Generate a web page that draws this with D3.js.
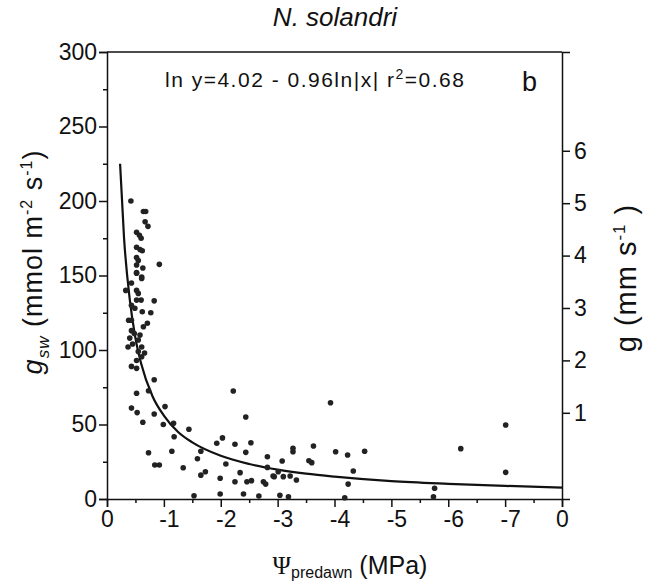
<!DOCTYPE html>
<html>
<head>
<meta charset="utf-8">
<title>N. solandri</title>
<script src="https://d3js.org/d3.v7.min.js"></script>
<style>
 body { margin: 0; background: #fff; }
 text { font-family: "Liberation Sans", Arial, sans-serif; fill: #111; }
 .axis path, .axis line { stroke: #111; stroke-width: 1.5; fill: none; }
 .axis text { font-size: 23px; }
</style>
</head>
<body>
<div id="chart"></div>
<script>
// scatter: predawn water potential (MPa) and g_sw (mmol m-2 s-1)
var psi = [-0.42, -0.64, -0.68, -0.67, -0.72, -0.52, -0.57, -0.60, -0.52, -0.58, -0.62, -0.52, -0.55,
  -0.52, -0.63, -0.52, -0.61, -0.92, -0.52, -0.61, -0.43, -0.33, -0.52, -0.55, -0.52, -0.60, -0.83,
  -0.43, -0.49, -0.62, -0.77, -0.43, -0.71, -0.64, -0.43, -0.48, -0.40, -0.55, -0.61, -0.55, -0.61,
  -0.52, -0.37, -0.43, -0.52, -0.83, -0.52, -0.73, -2.22, -0.43, -0.53, -1.02, -0.83, -0.63, -0.99,
  -1.17, -2.44, -1.44, -1.18, -0.73, -1.14, -0.84, -0.92, -1.34, -1.65, -1.59, -1.93, -2.03, -2.25,
  -2.53, -2.44, -2.82, -3.08, -2.82, -3.27, -3.27, -2.09, -2.34, -1.65, -1.73, -1.99, -2.25, -2.46,
  -2.54, -2.75, -2.79, -2.92, -3.01, -3.22, -3.33, -1.99, -1.53, -2.40, -2.67, -3.04, -3.19, -3.93,
  -3.63, -4.02, -4.23, -4.53, -3.55, -3.60, -4.33, -4.24, -2.94, -3.10, -4.18, -6.22, -7.01, -7.01,
  -5.76, -5.74, -0.45, -0.38, -0.58, -0.66];
var gsw = [200, 193, 193, 186, 183, 179, 177, 175, 169, 167.5, 166.6, 162, 160,
  157, 155, 151.5, 149, 157.5, 152, 148, 145, 140, 140, 138, 133.5, 133.5, 133,
  130, 128, 125.7, 125, 120, 118, 115.6, 113, 111, 108, 106.7, 102, 99, 95.5,
  93, 102, 89, 87.7, 80, 71, 72.7, 72.5, 61, 58, 62, 57, 51.5, 50,
  50.8, 55, 46.8, 41.8, 31, 32, 22.8, 22.8, 21, 32, 27, 37.4, 41, 36.7,
  37.8, 31.3, 28.4, 25.5, 21.2, 31.7, 34, 23.5, 17.7, 16, 18.3, 13.9, 11.6, 11.6,
  12.3, 11.6, 10, 15.4, 18.3, 15.4, 12.8, 3.4, 2.2, 3.4, 2, 2.5, 1.5, 64.6,
  35.6, 31.7, 29.5, 32, 25.7, 24.4, 18.8, 10, 15, 15, 0.8, 33.8, 49.7, 17.9,
  7.2, 1.5, 104, 120, 110, 98];

// fitted curve read along its length
var fitX = [-0.23, -0.3, -0.4, -0.5, -0.6, -0.8, -1.0, -1.25, -1.5, -2.0, -2.5, -3.0, -3.5, -4.0, -5.0, -6.0, -7.0, -8.0];
var fitY = [225, 175, 134, 108, 91, 69, 56, 45, 38, 29, 23.5, 19.7, 17, 15, 12, 10.2, 8.8, 7.7];

var xTicks = [0, -1, -2, -3, -4, -5, -6, -7, -8];
var xTickLabels = ["0", "-1", "-2", "-3", "-4", "-5", "-6", "-7", "0"];
var yTicks = [0, 50, 100, 150, 200, 250, 300];
var gTicks = [1, 2, 3, 4, 5, 6];

var margin = {top: 52, right: 85, bottom: 85, left: 107};
var width = 647 - margin.left - margin.right;
var height = 584 - margin.top - margin.bottom;

var svg = d3.select("#chart").append("svg")
  .attr("width", 647)
  .attr("height", 584);

var g = svg.append("g")
  .attr("transform", "translate(" + margin.left + "," + margin.top + ")");

var xScale = d3.scaleLinear().domain([0, -8]).range([0, width]);
var yScale = d3.scaleLinear().domain([0, 300]).range([height, 0]);
var gScale = d3.scaleLinear().domain([-0.645, 7.885]).range([height, 0]);

// minor ticks
g.append("g").attr("class", "axis")
  .attr("transform", "translate(0," + height + ")")
  .call(d3.axisBottom(xScale).tickValues(d3.range(-0.5, -8, -1)).tickSize(4).tickFormat(""))
  .select(".domain").remove();
g.append("g").attr("class", "axis")
  .call(d3.axisLeft(yScale).tickValues(d3.range(25, 300, 50)).tickSize(4).tickFormat(""))
  .select(".domain").remove();

var xAxis = g.append("g").attr("class", "axis")
  .attr("transform", "translate(0," + height + ")")
  .call(d3.axisBottom(xScale).tickValues(xTicks).tickSizeOuter(0).tickSize(8).tickPadding(4)
    .tickFormat(function(d, i) { return xTickLabels[i]; }));
xAxis.selectAll(".tick text")
  .attr("dx", function(d, i) { return xTickLabels[i].charAt(0) === "-" ? 5 : 0; });

var yAxis = g.append("g").attr("class", "axis")
  .call(d3.axisLeft(yScale).tickValues(yTicks).tickSizeOuter(0).tickSize(8).tickPadding(2));

var gAxis = g.append("g").attr("class", "axis")
  .attr("transform", "translate(" + width + ",0)")
  .call(d3.axisRight(gScale).tickValues(gTicks).tickSizeOuter(0).tickSize(8).tickPadding(4));

// top frame
g.append("line").attr("x1", 0).attr("x2", width).attr("y1", 0).attr("y2", 0)
  .attr("stroke", "#111").attr("stroke-width", 1.5);

// fitted curve
g.append("path")
  .datum(d3.zip(fitX, fitY))
  .attr("fill", "none")
  .attr("stroke", "#111")
  .attr("stroke-width", 2.2)
  .attr("d", d3.line()
    .x(function(d) { return xScale(d[0]); })
    .y(function(d) { return yScale(d[1]); })
    .curve(d3.curveMonotoneX));

// points
g.selectAll(".dot")
  .data(d3.zip(psi, gsw))
  .enter().append("circle")
  .attr("class", "dot")
  .attr("cx", function(d) { return xScale(d[0]); })
  .attr("cy", function(d) { return yScale(d[1]); })
  .attr("r", 2.8)
  .attr("fill", "#222");

// title
svg.append("text")
  .attr("x", 335).attr("y", 26)
  .attr("text-anchor", "middle")
  .style("font-size", "26px").style("font-style", "italic")
  .text("N. solandri");

// equation
var eq = g.append("text").attr("x", 58).attr("y", 35)
  .style("font-size", "21px").style("letter-spacing", "1.5px");
eq.append("tspan").text("ln y=4.02 - 0.96ln|x| r");
eq.append("tspan").attr("dy", -8).style("font-size", "14px").text("2");
eq.append("tspan").attr("dy", 8).text("=0.68");

g.append("text").attr("x", 415).attr("y", 39).style("font-size", "27px").text("b");

// left axis title
var yl = svg.append("text")
  .attr("transform", "translate(42,262) rotate(-90)")
  .attr("text-anchor", "middle")
  .style("font-size", "27px").style("letter-spacing", "1px");
yl.append("tspan").style("font-style", "italic").text("g");
yl.append("tspan").attr("dy", 7).style("font-style", "italic").style("font-size", "17px").text("sw");
yl.append("tspan").attr("dy", -7).text(" (mmol m");
yl.append("tspan").attr("dy", -10).style("font-size", "16px").text("-2");
yl.append("tspan").attr("dy", 10).text(" s");
yl.append("tspan").attr("dy", -10).style("font-size", "16px").text("-1");
yl.append("tspan").attr("dy", 10).text(")");

// right axis title
var gl = svg.append("text")
  .attr("transform", "translate(636,278) rotate(-90)")
  .attr("text-anchor", "middle")
  .style("font-size", "29px").style("letter-spacing", "1px");
gl.append("tspan").text("g (mm s");
gl.append("tspan").attr("dy", -11).style("font-size", "17px").text("-1");
gl.append("tspan").attr("dy", 11).text(" )");

// x axis title
var xl = svg.append("text")
  .attr("x", 350).attr("y", 574)
  .attr("text-anchor", "middle")
  .style("font-size", "25px");
xl.append("tspan").style("font-family", "'Liberation Serif', serif").text("\u03A8");
xl.append("tspan").attr("dy", 4).style("font-size", "16px").text("predawn");
xl.append("tspan").attr("dy", -4).text(" (MPa)");
</script>
</body>
</html>
